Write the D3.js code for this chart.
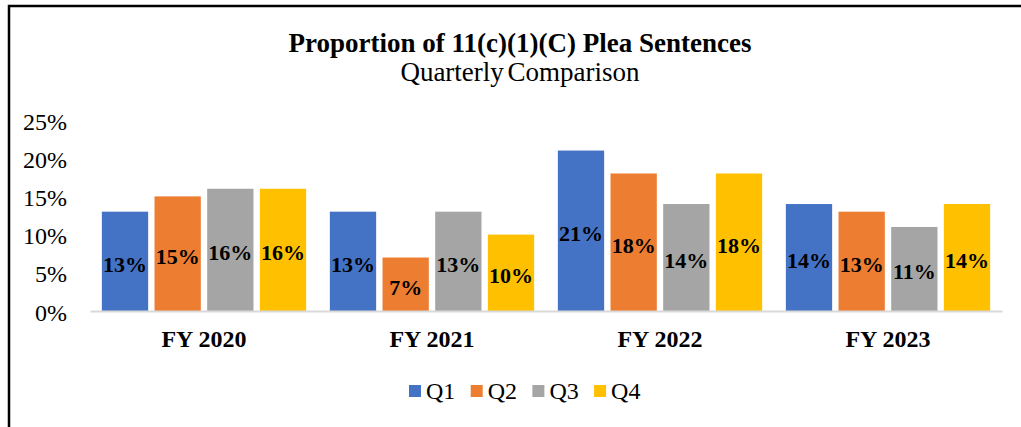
<!DOCTYPE html>
<html>
<head>
<meta charset="utf-8">
<script src="https://cdn.jsdelivr.net/npm/d3@7"></script>
<style>
  body { margin: 0; background: #fff; }
  svg text { font-family: "Liberation Serif", "Times New Roman", serif; }
</style>
</head>
<body>
<div id="chart"></div>
<script>
// chart data
var years = ["FY 2020", "FY 2021", "FY 2022", "FY 2023"];
var quarters = ["Q1", "Q2", "Q3", "Q4"];
var q1 = [0.13, 0.13, 0.21, 0.14];
var q2 = [0.15, 0.07, 0.18, 0.13];
var q3 = [0.16, 0.13, 0.14, 0.11];
var q4 = [0.16, 0.10, 0.18, 0.14];
var yTicks = [0, 0.05, 0.10, 0.15, 0.20, 0.25];
var colors = ["#4472c4", "#ed7d31", "#a5a5a5", "#ffc000"];

var series = [q1, q2, q3, q4];
var rows = [];
years.forEach(function(yr, i) {
    quarters.forEach(function(q, j) {
        rows.push({year: yr, quarter: q, value: series[j][i]});
    });
});

var W = 1021, H = 427;
var svg = d3.select("#chart").append("svg")
    .attr("width", W).attr("height", H);

// outer frame
svg.append("rect")
    .attr("x", 9).attr("y", 6)
    .attr("width", W + 20).attr("height", H + 20)
    .attr("fill", "#fff")
    .attr("stroke", "#000")
    .attr("stroke-width", 2.5);

// title
svg.append("text")
    .attr("x", 520).attr("y", 52)
    .attr("text-anchor", "middle")
    .attr("font-size", 27).attr("font-weight", "bold")
    .text("Proportion of 11(c)(1)(C) Plea Sentences");
svg.append("text")
    .attr("x", 520).attr("y", 81)
    .attr("text-anchor", "middle")
    .attr("font-size", 27)
    .attr("word-spacing", -3)
    .text("Quarterly Comparison");

var plotL = 90, plotR = 1002, plotT = 120, plotB = 311;

var x0 = d3.scaleBand().domain(years).range([plotL, plotR]);
var x1 = d3.scaleBand().domain(quarters).range([0, x0.bandwidth()])
    .paddingInner(0.121).paddingOuter(0.225);
var y = d3.scaleLinear().domain([0, 0.25]).range([plotB, plotT]);
var color = d3.scaleOrdinal().domain(quarters).range(colors);

// y axis labels
var yAxis = svg.append("g")
    .attr("transform", "translate(" + plotL + ",0)")
    .call(d3.axisLeft(y).tickValues(yTicks).tickSize(0).tickPadding(23)
        .tickFormat(d3.format(".0%")));
yAxis.select(".domain").remove();
yAxis.selectAll("text")
    .attr("font-size", 24)
    .attr("dy", "0.38em")
    .attr("fill", "#000")
    .attr("font-family", "Liberation Serif, serif");

// bars
var bars = svg.append("g").selectAll("g.bar")
    .data(rows).enter().append("g")
    .attr("class", "bar");

bars.append("rect")
    .attr("x", function(d) { return x0(d.year) + x1(d.quarter); })
    .attr("y", function(d) { return y(d.value); })
    .attr("width", x1.bandwidth())
    .attr("height", function(d) { return y(0) - y(d.value); })
    .attr("fill", function(d) { return color(d.quarter); });

bars.append("text")
    .attr("x", function(d) { return x0(d.year) + x1(d.quarter) + x1.bandwidth() / 2; })
    .attr("y", function(d) { return (y(d.value) + y(0)) / 2 + 3; })
    .attr("text-anchor", "middle")
    .attr("dominant-baseline", "central")
    .attr("font-size", 22).attr("font-weight", "bold")
    .text(function(d) { return d3.format(".0%")(d.value); });

// x axis
var xAxis = svg.append("g")
    .attr("transform", "translate(0," + plotB + ")")
    .call(d3.axisBottom(x0).tickSize(0).tickPadding(19));
xAxis.select(".domain")
    .attr("stroke", "#d9d9d9").attr("stroke-width", 2);
xAxis.selectAll("text")
    .attr("font-size", 24).attr("font-weight", "bold")
    .attr("fill", "#000")
    .attr("font-family", "Liberation Serif, serif");

// legend
var legend = svg.append("g").selectAll("g")
    .data(quarters).enter().append("g")
    .attr("transform", function(d, i) { return "translate(" + (409 + i * 61.7) + ",385)"; });
legend.append("rect")
    .attr("width", 12).attr("height", 12)
    .attr("fill", function(d) { return color(d); });
legend.append("text")
    .attr("x", 17).attr("y", 6)
    .attr("dominant-baseline", "central")
    .attr("font-size", 24)
    .text(function(d) { return d; });
</script>
</body>
</html>
